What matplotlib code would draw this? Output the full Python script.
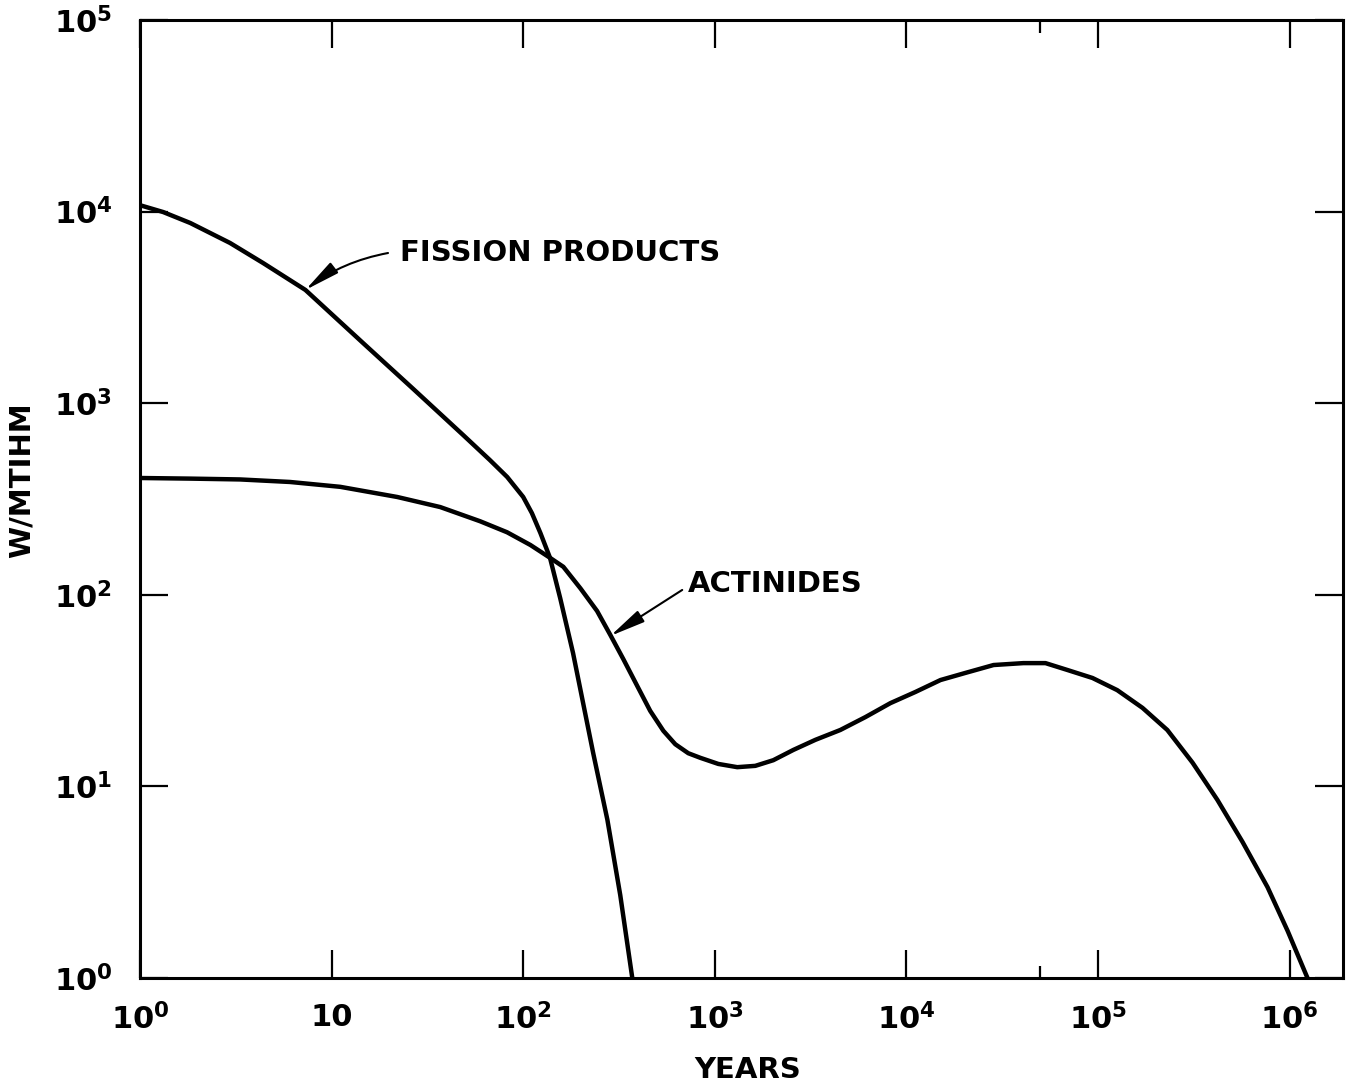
import numpy as np
import matplotlib.pyplot as plt
from matplotlib.ticker import FixedLocator, NullLocator, NullFormatter

plt.rcParams['font.family'] = ['DejaVu Sans']
plt.rcParams['font.weight'] = 'bold'
plt.rcParams['mathtext.fontset'] = 'custom'
plt.rcParams['mathtext.rm'] = 'DejaVu Sans:bold'
plt.rcParams['mathtext.it'] = 'DejaVu Sans:bold'
plt.rcParams['mathtext.bf'] = 'DejaVu Sans:bold'

# fission products decay heat (W/MTIHM) vs years
fp_years = [1, 1.32, 1.83, 2.95, 4.39, 7.3, 14.6, 26.7, 48.6, 67, 82.5, 100,
            111, 123, 138, 156, 182, 232, 275, 321, 371]
fp_heat = [10800, 9950, 8720, 6860, 5390, 3900, 2060, 1186, 682, 505, 412, 324,
           267, 210, 156, 96, 49.7, 14.9, 6.7, 2.71, 1.0]

# actinides
act_years = [1, 1.83, 3.33, 6.07, 11.1, 22, 36.9, 59.6, 82.4, 109, 138, 162,
             199, 243, 285, 333, 394, 460, 539, 622, 727, 840, 1043, 1310,
             1627, 2020, 2570, 3350, 4520, 6110, 8250, 11140, 15060, 20300,
             28500, 40800, 53200, 69300, 93600, 126000, 170700, 230000,
             311500, 420000, 568000, 767000, 977000, 1.24e6]
act_heat = [407, 404, 400, 388, 366, 324, 287, 242, 212, 182, 156, 140,
            108, 82.3, 61.7, 46.2, 33.4, 24.8, 19.5, 16.6, 14.9, 14.1, 13.1, 12.6,
            12.8, 13.7, 15.5, 17.5, 19.7, 23.0, 27.2, 31.1, 35.9, 39.1,
            43, 44, 44, 40.5, 36.8, 31.8, 25.7, 19.7,
            13.3, 8.5, 5.13, 2.98, 1.76, 1.0]

xticks = [1, 10, 1e2, 1e3, 1e4, 1e5, 1e6]
xticklabels = ['$10^0$', '10', '$10^2$', '$10^3$', '$10^4$', '$10^5$', '$10^6$']
yticks = [1, 10, 1e2, 1e3, 1e4, 1e5]
yticklabels = ['$10^0$', '$10^1$', '$10^2$', '$10^3$', '$10^4$', '$10^5$']

fig = plt.figure(figsize=(13.52, 10.86), dpi=100)
ax = fig.add_axes([140/1352, 1-978/1086, 1203/1352, 958/1086])

ax.plot(fp_years, fp_heat, color='black', lw=3.2, solid_joinstyle='round')
ax.plot(act_years, act_heat, color='black', lw=3.2, solid_joinstyle='round')

ax.set_xscale('log')
ax.set_yscale('log')
ax.set_xlim(1, 1.9e6)
ax.set_ylim(1, 1e5)

ax.xaxis.set_major_locator(FixedLocator(xticks))
ax.set_xticklabels(xticklabels)
ax.xaxis.set_minor_locator(FixedLocator([5e4]))
ax.xaxis.set_minor_formatter(NullFormatter())
ax.yaxis.set_major_locator(FixedLocator(yticks))
ax.set_yticklabels(yticklabels)
ax.yaxis.set_minor_locator(NullLocator())

ax.tick_params(which='major', direction='in', length=20, width=1.6,
               top=True, right=True, labelsize=22)
ax.tick_params(axis='x', which='major', pad=18)
ax.tick_params(axis='y', which='major', pad=20)
ax.tick_params(which='minor', direction='in', length=9, width=1.6, top=True)
for s in ax.spines.values():
    s.set_linewidth(2.2)

# long slender arrowheads like the original drawing
arrow = dict(arrowstyle='-|>,head_length=1.2,head_width=0.22', color='black',
             lw=1.5, mutation_scale=18, shrinkA=0, shrinkB=0)
ax.annotate('', xy=(7.3, 3900), xytext=(19.7, 6080),
            arrowprops=dict(arrow, connectionstyle='arc3,rad=0.12'))
ax.annotate('', xy=(285, 61), xytext=(676, 106), arrowprops=arrow)
ax.text(22.8, 6080, 'FISSION PRODUCTS', fontsize=21, fontweight='bold',
        ha='left', va='center')
ax.text(727, 114, 'ACTINIDES', fontsize=21, fontweight='bold',
        ha='left', va='center')

fig.text(748/1352, 1-1070/1086, 'YEARS', fontsize=21, fontweight='bold',
         ha='center', va='center')
fig.text(22/1352, 1-480/1086, 'W/MTIHM', fontsize=21, fontweight='bold',
         ha='center', va='center', rotation=90)

fig.savefig('out.png', dpi=100)
